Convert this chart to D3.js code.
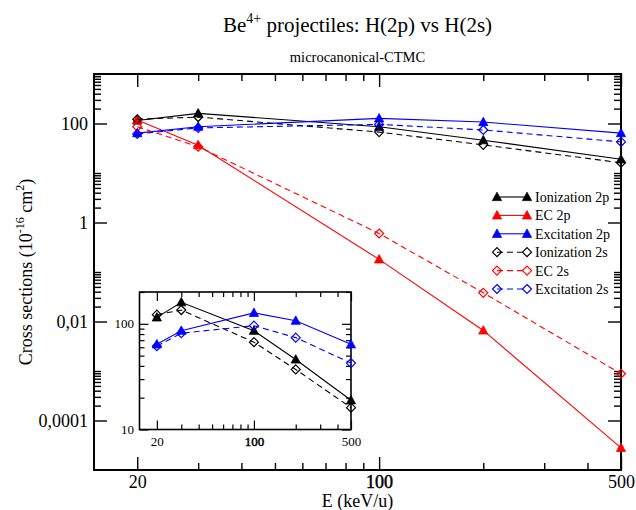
<!DOCTYPE html>
<html>
<head>
<meta charset="utf-8">
<script src="https://cdn.jsdelivr.net/npm/d3@7"></script>
<style>
  html, body { margin: 0; padding: 0; background: #fff; }
</style>
</head>
<body>
<svg id="chart" width="636" height="510"></svg>
<script>
// ---- data ----
const energies = [20, 30, 100, 200, 500];
const ionization2p = [115, 160, 86, 46, 18.9];
const ec2p = [118, 36.5, 0.18, 0.0066, 2.8e-5];
const excitation2p = [64, 86, 127, 107, 64];
const ionization2s = [122, 135, 67, 37, 16.1];
const ec2s = [86, 34, 0.6, 0.038, 8.8e-4];
const excitation2s = [61.5, 81.5, 96, 74, 42.5];

const seriesNames = ["Ionization 2p", "EC 2p", "Excitation 2p", "Ionization 2s", "EC 2s", "Excitation 2s"];
const seriesValues = [ionization2p, ec2p, excitation2p, ionization2s, ec2s, excitation2s];
const seriesColors = ["#000000", "#ff0000", "#0000ff", "#000000", "#ff0000", "#0000ff"];
const seriesDashed = [false, false, false, true, true, true];
const insetSeries = [0, 2, 3, 5];

const xTickValues = [20, 100, 500];
const xTickLabels = ["20", "100", "500"];
const xMinorValues = [30, 40, 50, 60, 70, 80, 90, 200, 300, 400];
const yTickValues = [1e-4, 1e-2, 1, 100];
const yTickLabels = ["0,0001", "0,01", "1", "100"];
const insetYTickValues = [10, 100];
const insetYTickLabels = ["10", "100"];
const insetYMinorValues = [20, 30, 40, 50, 60, 70, 80, 90, 200];

const FONT = "'Liberation Serif', Tinos, 'Times New Roman', 'Nimbus Roman', 'Nimbus Roman No9 L', FreeSerif, 'Noto Serif', 'DejaVu Serif', Times, serif";

// ---- layout ----
const svg = d3.select("#chart").style("font-family", FONT);
const P = { left: 94, right: 621, top: 74, bottom: 470 };
const I = { left: 139.5, right: 351, top: 292, bottom: 429.5 };

const x = d3.scaleLog().domain([15, 500]).range([P.left, P.right]);
const y = d3.scaleLog().domain([1e-5, 1e3]).range([P.bottom, P.top]);
const xi = d3.scaleLog().domain([15, 500]).range([I.left, I.right]);
const yi = d3.scaleLog().domain([10, 200]).range([I.bottom, I.top]);

const yMinorValues = yTickValues.flatMap(m => [2,3,4,5,6,7,8,9,10].map(k => m * k));

function fmtFrom(values, labels) {
  return v => { const i = values.findIndex(t => Math.abs(t - v) / t < 1e-9); return i >= 0 ? labels[i] : ""; };
}

function drawAxes(g, xs, ys, box, opt) {
  const mk = (axis, tr) => {
    const a = g.append("g").attr("transform", tr).call(axis);
    a.attr("font-family", null).style("font-family", FONT);
    a.select(".domain").remove();
    a.selectAll(".tick line").attr("stroke", "#000").attr("stroke-width", opt.tickW);
    return a;
  };
  const b = mk(d3.axisBottom(xs).tickValues(xTickValues).tickSizeInner(-opt.major).tickSizeOuter(0)
      .tickPadding(opt.xPad).tickFormat(fmtFrom(xTickValues, xTickLabels)), `translate(0,${box.bottom})`);
  b.selectAll("text").attr("font-size", opt.font).attr("fill", "#000").style("font-family", FONT)
    .filter(d => d === 100).attr("stroke", "#000").attr("stroke-width", 0.5);
  mk(d3.axisBottom(xs).tickValues(xMinorValues).tickSizeInner(-opt.minor).tickSizeOuter(0).tickFormat(""), `translate(0,${box.bottom})`);
  mk(d3.axisTop(xs).tickValues(xTickValues).tickSizeInner(-opt.major).tickSizeOuter(0).tickFormat(""), `translate(0,${box.top})`);
  mk(d3.axisTop(xs).tickValues(xMinorValues).tickSizeInner(-opt.minor).tickSizeOuter(0).tickFormat(""), `translate(0,${box.top})`);
  const l = mk(d3.axisLeft(ys).tickValues(opt.yMajor).tickSizeInner(-opt.major).tickSizeOuter(0)
      .tickPadding(opt.yPad).tickFormat(fmtFrom(opt.yMajor, opt.yLabels)), `translate(${box.left},0)`);
  l.selectAll("text").attr("font-size", opt.font).attr("fill", "#000").style("font-family", FONT);
  mk(d3.axisLeft(ys).tickValues(opt.yMinor).tickSizeInner(-opt.minor).tickSizeOuter(0).tickFormat(""), `translate(${box.left},0)`);
  mk(d3.axisRight(ys).tickValues(opt.yMajor).tickSizeInner(-opt.major).tickSizeOuter(0).tickFormat(""), `translate(${box.right},0)`);
  mk(d3.axisRight(ys).tickValues(opt.yMinor).tickSizeInner(-opt.minor).tickSizeOuter(0).tickFormat(""), `translate(${box.right},0)`);
  g.append("rect").attr("x", box.left).attr("y", box.top)
    .attr("width", box.right - box.left).attr("height", box.bottom - box.top)
    .attr("fill", "none").attr("stroke", "#000").attr("stroke-width", opt.frameW);
}

const triPath = "M0,-4.8L4.6,3.6L-4.6,3.6Z";
const diaPath = "M0,-4.5L4.5,0L0,4.5L-4.5,0Z";

function drawSeries(g, xs, ys, idx) {
  const vals = seriesValues[idx];
  const pts = energies.map((e, i) => [xs(e), ys(vals[i])]);
  g.append("path").attr("d", d3.line()(pts)).attr("fill", "none")
    .attr("stroke", seriesColors[idx]).attr("stroke-width", 1.1)
    .attr("stroke-dasharray", seriesDashed[idx] ? "6,4" : null);
  g.selectAll(null).data(pts).enter().append("path")
    .attr("transform", d => `translate(${d[0]},${d[1]})`)
    .attr("d", seriesDashed[idx] ? diaPath : triPath)
    .attr("fill", seriesDashed[idx] ? "none" : seriesColors[idx])
    .attr("stroke", seriesColors[idx]).attr("stroke-width", seriesDashed[idx] ? 1.2 : 0.8);
}

// ---- main plot ----
const main = svg.append("g");
drawAxes(main, x, y, P, { major: 13, minor: 7, tickW: 1.4, frameW: 2, font: 18, xPad: 5, yPad: 6,
  yMajor: yTickValues, yLabels: yTickLabels, yMinor: yMinorValues });
seriesValues.forEach((_, i) => drawSeries(main, x, y, i));

// ---- inset ----
const inset = svg.append("g");
inset.append("rect").attr("x", I.left).attr("y", I.top).attr("width", I.right - I.left)
  .attr("height", I.bottom - I.top).attr("fill", "#fff");
drawAxes(inset, xi, yi, I, { major: 9, minor: 5, tickW: 1.2, frameW: 1.6, font: 13, xPad: 7, yPad: 5.5,
  yMajor: insetYTickValues, yLabels: insetYTickLabels, yMinor: insetYMinorValues });
insetSeries.forEach(i => drawSeries(inset, xi, yi, i));

// ---- legend ----
const leg = svg.append("g").style("font-family", FONT);
seriesNames.forEach((name, i) => {
  const yy = 197 + i * 18.4;
  leg.append("line").attr("x1", 497).attr("x2", 527).attr("y1", yy).attr("y2", yy)
    .attr("stroke", seriesColors[i]).attr("stroke-width", 1.1)
    .attr("stroke-dasharray", seriesDashed[i] ? "6,4" : null);
  [497, 527].forEach(px => leg.append("path").attr("transform", `translate(${px},${yy})`)
    .attr("d", seriesDashed[i] ? diaPath : triPath)
    .attr("fill", seriesDashed[i] ? "none" : seriesColors[i])
    .attr("stroke", seriesColors[i]).attr("stroke-width", seriesDashed[i] ? 1.2 : 0.8));
  leg.append("text").attr("x", 535).attr("y", yy + 5).attr("font-size", 14).style("font-family", FONT).text(name);
});

// ---- titles ----
const cx = (P.left + P.right) / 2;
const t = svg.append("text").attr("x", cx).attr("y", 32).attr("text-anchor", "middle").attr("font-size", 21).style("font-family", FONT);
t.append("tspan").text("Be");
t.append("tspan").attr("font-size", 14).attr("dy", -9).text("4+");
t.append("tspan").attr("dy", 9).text(" projectiles: H(2p) vs H(2s)");

svg.append("text").attr("x", cx).attr("y", 62).attr("text-anchor", "middle").attr("font-size", 14.5).style("font-family", FONT)
  .text("microcanonical-CTMC");

svg.append("text").attr("x", cx).attr("y", 507).attr("text-anchor", "middle").attr("font-size", 18).style("font-family", FONT)
  .text("E (keV/u)");

const yl = svg.append("text").attr("transform", `translate(32,${(P.top + P.bottom) / 2}) rotate(-90)`)
  .attr("text-anchor", "middle").attr("font-size", 18).style("font-family", FONT);
yl.append("tspan").text("Cross sections (10");
yl.append("tspan").attr("font-size", 12).attr("dy", -8).text("-16");
yl.append("tspan").attr("dy", 8).text(" cm");
yl.append("tspan").attr("font-size", 12).attr("dy", -8).text("2");
yl.append("tspan").attr("dy", 8).text(")");
</script>
</body>
</html>
